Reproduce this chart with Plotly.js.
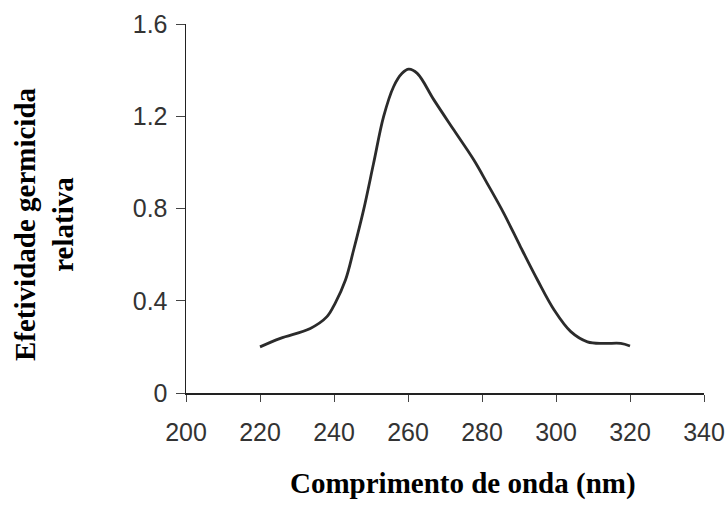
<!DOCTYPE html>
<html>
<head>
<meta charset="utf-8">
<script src="https://cdn.plot.ly/plotly-3.0.1.min.js"></script>
<style>html,body{margin:0;padding:0;background:#fff;}#chart{width:728px;height:507px;}</style>
</head>
<body>
<div id="chart"></div>
<script>
// Wavelength (nm)
const wavelength = [220, 225.5, 233.6, 238.1, 240.3, 243.1, 245.3, 248.0, 250.7, 253.4, 256.1, 258.4, 260.2, 262.5, 267.0, 272.4, 277.8, 281.4, 285.9, 290.4, 295.0, 299.5, 304.0, 308.5, 313.0, 317.5, 320.0];
// Relative germicidal effectiveness
const effectiveness = [0.20, 0.237, 0.28, 0.331, 0.389, 0.49, 0.62, 0.794, 0.996, 1.198, 1.328, 1.386, 1.404, 1.386, 1.271, 1.14, 1.01, 0.909, 0.779, 0.634, 0.49, 0.36, 0.266, 0.222, 0.215, 0.215, 0.204];
const xTicks = [200, 220, 240, 260, 280, 300, 320, 340];
const yTicks = [0, 0.4, 0.8, 1.2, 1.6];
const yTickText = ["0", "0.4", "0.8", "1.2", "1.6"];
const xTitle = "Comprimento de onda (nm)";
const yTitle = "Efetividade germicida<br>relativa";

const trace = {
  x: wavelength, y: effectiveness, type: "scatter", mode: "lines",
  line: {color: "#2b2b2b", width: 2.8, shape: "spline", smoothing: 1.0},
  hoverinfo: "skip"
};

const tickFont = {family: "Liberation Sans, Arial, sans-serif", size: 25, color: "#333"};
const titleFont = {family: "Liberation Serif, Times New Roman, serif", size: 29, color: "#000", weight: "bold"};

const layout = {
  width: 728, height: 507,
  margin: {l: 186, r: 24, t: 24, b: 114},
  paper_bgcolor: "#fff", plot_bgcolor: "#fff",
  showlegend: false,
  xaxis: {
    range: [200, 340], tickvals: xTicks, ticktext: xTicks.map(String),
    showgrid: false, zeroline: false, showline: true, linecolor: "#222", linewidth: 1.5,
    ticks: "outside", ticklen: 7, tickcolor: "#444", tickwidth: 1,
    tickfont: tickFont, ticklabelstandoff: 9
  },
  yaxis: {
    range: [0, 1.6], tickvals: yTicks, ticktext: yTickText,
    showgrid: false, zeroline: false, showline: true, linecolor: "#222", linewidth: 1.5,
    ticks: "outside", ticklen: 9, tickcolor: "#444", tickwidth: 1,
    tickfont: tickFont, ticklabelstandoff: 3
  },
  annotations: [
    {text: xTitle, xref: "paper", yref: "paper", x: (463 - 186) / 518, y: -(483 - 393) / 369,
     xanchor: "center", yanchor: "middle", showarrow: false, font: titleFont},
    {text: yTitle, xref: "paper", yref: "paper", x: -(186 - 44) / 518, y: (393 - 224) / 369,
     xanchor: "center", yanchor: "middle", textangle: -90, showarrow: false, font: titleFont}
  ]
};

Plotly.newPlot("chart", [trace], layout, {staticPlot: true, displayModeBar: false});
</script>
</body>
</html>
